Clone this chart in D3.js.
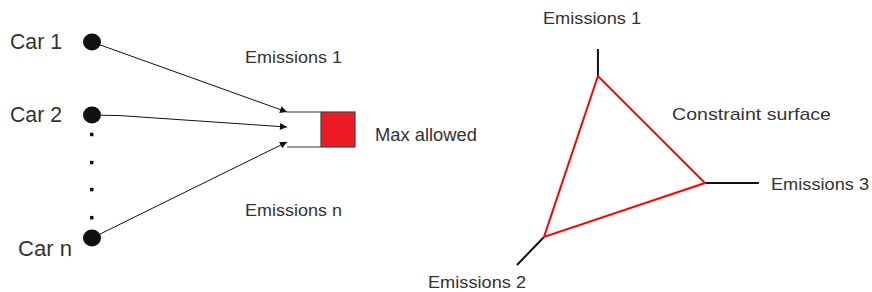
<!DOCTYPE html>
<html>
<head>
<meta charset="utf-8">
<script src="https://cdn.jsdelivr.net/npm/d3@7"></script>
<style>
  body { margin: 0; background: #fff; }
  text { font-family: "Liberation Sans", Arial, sans-serif; fill: #333; }
</style>
</head>
<body>
<svg id="chart" width="872" height="292"></svg>
<script>
// cars feeding the shared emission budget
var carLabels = ["Car 1", "Car 2", "Car n"];
var carRows = [0, 1, 2.685];            // row index of each car on the left column
var ellipsisRows = [1.27, 1.655, 2.025, 2.41];
var arrowTargets = [0, 1, 2];         // top, middle, bottom slot of the box
var emissionLabels = ["Emissions 1", "Emissions n"];
var boxLabel = "Max allowed";

// constraint triangle: one axis per emission
var axisNames = ["Emissions 1", "Emissions 2", "Emissions 3"];
var axisVertex = [[0.335, 0], [0, 1], [1, 0.665]];   // triangle corners (unit space)
var axisOuter = [[0.335, -0.168], [-0.168, 1.174], [1.335, 0.665]];
var surfaceLabel = "Constraint surface";

var svg = d3.select("#chart");

// left panel scales
var rowY = d3.scaleLinear().domain([0, 1]).range([42, 115]);
var slotY = d3.scaleLinear().domain([0, 2]).range([112, 142]);
var dotX = 92, tipX = 287;

var defs = svg.append("defs");
defs.append("marker")
    .attr("id", "head")
    .attr("viewBox", "0 0 10 10")
    .attr("refX", 10).attr("refY", 5)
    .attr("markerWidth", 9).attr("markerHeight", 7)
    .attr("markerUnits", "userSpaceOnUse")
    .attr("orient", "auto")
    .append("path")
    .attr("d", "M0,0L10,5L0,10Z")
    .attr("fill", "#111");

var left = svg.append("g");

// arrows, drawn first so the dots cover their start
var line = d3.line();
left.selectAll("path.arrow")
    .data(carRows)
    .join("path")
    .attr("class", "arrow")
    .attr("fill", "none")
    .attr("stroke", "#111")
    .attr("stroke-width", 1)
    .attr("marker-end", "url(#head)")
    .attr("d", (r, i) => {
        var y0 = rowY(r), y1 = slotY(arrowTargets[i]);
        // the middle arrow has a small kink near its start
        if (i == 1) return line([[dotX, y0], [dotX + 28, y0 + 0.6], [tipX, y1]]);
        return line([[dotX, y0], [tipX, y1]]);
    });

left.selectAll("ellipse.car")
    .data(carRows)
    .join("ellipse")
    .attr("class", "car")
    .attr("cx", dotX)
    .attr("cy", d => rowY(d))
    .attr("rx", 9).attr("ry", 8.5)
    .attr("fill", "#111");

left.selectAll("rect.dot")
    .data(ellipsisRows)
    .join("rect")
    .attr("class", "dot")
    .attr("x", dotX - 2).attr("y", d => rowY(d) - 2)
    .attr("width", 3.5).attr("height", 3.5)
    .attr("fill", "#111");

left.selectAll("text.car")
    .data(carLabels)
    .join("text")
    .attr("class", "car")
    .attr("x", (d, i) => i == 2 ? 18 : 10)
    .attr("y", (d, i) => rowY(carRows[i]) + (i == 2 ? 18 : 7))
    .attr("font-size", 21.5)
    .attr("textLength", (d, i) => i == 2 ? 54 : 52)
    .attr("lengthAdjust", "spacingAndGlyphs")
    .attr("fill", "#222")
    .text(d => d);

// budget box
var box = left.append("g");
[slotY(0), slotY(2) + 5].forEach(y => {
    box.append("line")
        .attr("x1", tipX).attr("x2", 321)
        .attr("y1", y).attr("y2", y)
        .attr("stroke", "#777").attr("stroke-width", 1.5);
});
box.append("rect")
    .attr("x", 321).attr("y", slotY(0))
    .attr("width", 34).attr("height", slotY(2) + 5 - slotY(0))
    .attr("fill", "#ed1c24")
    .attr("stroke", "#444").attr("stroke-width", 1.2);
box.append("text")
    .attr("x", 375).attr("y", 141)
    .attr("font-size", 17.5)
    .attr("textLength", 102)
    .attr("lengthAdjust", "spacingAndGlyphs")
    .text(boxLabel);

left.selectAll("text.em")
    .data(emissionLabels)
    .join("text")
    .attr("class", "em")
    .attr("x", 245)
    .attr("y", (d, i) => i == 0 ? 63 : 216)
    .attr("font-size", 16.5)
    .attr("textLength", 97)
    .attr("lengthAdjust", "spacingAndGlyphs")
    .text(d => d);

// right panel
var tx = d3.scaleLinear().domain([0, 1]).range([544, 705]);
var ty = d3.scaleLinear().domain([0, 1]).range([76, 237]);
var right = svg.append("g");

right.selectAll("line.axis")
    .data(axisNames)
    .join("line")
    .attr("class", "axis")
    .attr("x1", (d, i) => tx(axisVertex[i][0]))
    .attr("y1", (d, i) => ty(axisVertex[i][1]))
    .attr("x2", (d, i) => tx(axisOuter[i][0]))
    .attr("y2", (d, i) => ty(axisOuter[i][1]))
    .attr("stroke", "#111")
    .attr("stroke-width", 2);

right.append("path")
    .attr("d", d3.line().x(d => tx(d[0])).y(d => ty(d[1]))(axisVertex) + "Z")
    .attr("fill", "none")
    .attr("stroke", "#ff0000")
    .attr("stroke-width", 2)
    .attr("stroke-linejoin", "miter");

var axisText = [[543, 24], [428, 288], [771, 190]];
right.selectAll("text.axis")
    .data(axisNames)
    .join("text")
    .attr("class", "axis")
    .attr("x", (d, i) => axisText[i][0])
    .attr("y", (d, i) => axisText[i][1])
    .attr("font-size", 16.5)
    .attr("textLength", 98)
    .attr("lengthAdjust", "spacingAndGlyphs")
    .text(d => d);

right.append("text")
    .attr("x", 672).attr("y", 120)
    .attr("font-size", 17)
    .attr("textLength", 159)
    .attr("lengthAdjust", "spacingAndGlyphs")
    .text(surfaceLabel);
</script>
</body>
</html>
